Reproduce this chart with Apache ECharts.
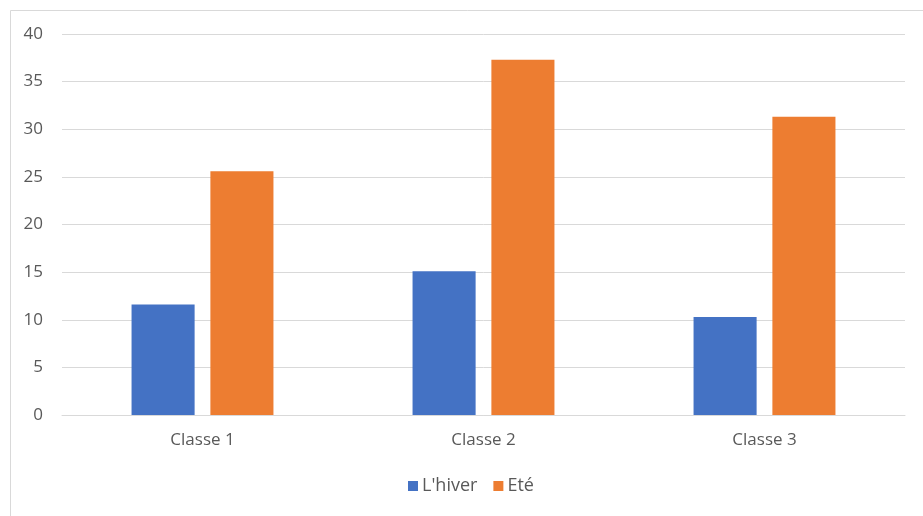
<!DOCTYPE html>
<html>
<head>
<meta charset="utf-8">
<script src="https://cdn.jsdelivr.net/npm/echarts@6/dist/echarts.min.js"></script>
<style>
  html, body { margin: 0; padding: 0; background: #fff; }
  #chart { width: 923px; height: 516px; }
</style>
</head>
<body>
<div id="chart"></div>
<script>
// Categories and series values
const categories = ['Classe 1', 'Classe 2', 'Classe 3'];
const hiverValues = [11.6, 15.1, 10.3];
const eteValues = [25.6, 37.3, 31.3];
const seriesNames = ["L'hiver", 'Eté'];
const yTicks = { min: 0, max: 40, interval: 5 };

const chart = echarts.init(document.getElementById('chart'), null, { renderer: 'canvas' });
const textColor = '#595959';
const fontFamily = '"Open Sans", "Noto Sans", sans-serif';

chart.setOption({
  animation: false,
  backgroundColor: '#ffffff',
  graphic: [{
    type: 'rect',
    left: 8, top: 8,
    shape: { width: 960, height: 560 },
    style: { fill: 'none', stroke: '#d9d9d9', lineWidth: 1 },
    silent: true
  }],
  grid: { left: 62, right: 18, top: 34, bottom: 101, containLabel: false },
  legend: {
    data: seriesNames,
    bottom: 16,
    left: 403,
    itemWidth: 10,
    itemHeight: 10,
    itemGap: 16,
    icon: 'rect',
    textStyle: { color: textColor, fontSize: 18, fontFamily: fontFamily, padding: [0, 0, 0, -1] }
  },
  xAxis: {
    type: 'category',
    data: categories,
    axisLine: { show: true, lineStyle: { color: '#d9d9d9' } },
    axisTick: { show: false },
    axisLabel: { color: textColor, fontSize: 17, fontFamily: fontFamily, margin: 17 }
  },
  yAxis: {
    type: 'value',
    min: yTicks.min,
    max: yTicks.max,
    interval: yTicks.interval,
    axisLine: { show: false },
    axisTick: { show: false },
    splitLine: { lineStyle: { color: '#d9d9d9', width: 1 } },
    axisLabel: { color: textColor, fontSize: 17, fontFamily: fontFamily, margin: 19 }
  },
  series: [
    {
      name: seriesNames[0],
      type: 'bar',
      data: hiverValues,
      itemStyle: { color: '#4472C4' },
      barGap: '25%',
      barCategoryGap: '49.5%'
    },
    {
      name: seriesNames[1],
      type: 'bar',
      data: eteValues,
      itemStyle: { color: '#ED7D31' },
      barGap: '25%',
      barCategoryGap: '49.5%'
    }
  ]
});
</script>
</body>
</html>
